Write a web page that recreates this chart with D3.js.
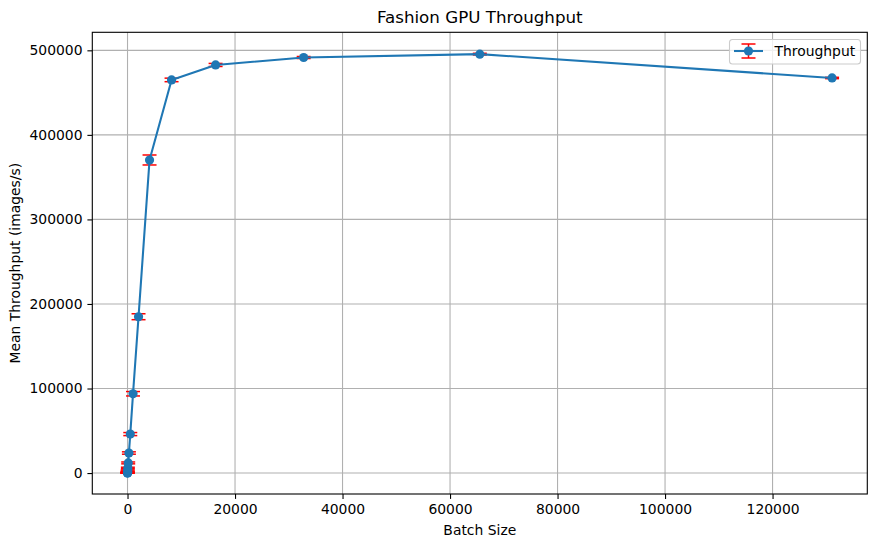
<!DOCTYPE html>
<html>
<head>
<meta charset="utf-8">
<script src="https://cdn.jsdelivr.net/npm/d3@7"></script>
<style>
  body { margin: 0; background: #fff; }
  svg { font-family: "DejaVu Sans", sans-serif; }
</style>
</head>
<body>
<div id="svg-container"></div>
<script>
// data
const batchSizes = [1, 2, 4, 8, 16, 32, 64, 128, 256, 512, 1024, 2048, 4096, 8192, 16384, 32768, 65536, 131072];
const throughput = [90, 185, 370, 750, 1500, 3000, 6000, 12000, 23700, 46100, 93800, 184900, 370300, 465000, 482700, 491500, 495500, 467300];
const throughputErr = [40, 80, 150, 300, 500, 700, 900, 1100, 1400, 1800, 2600, 3500, 5900, 2100, 1800, 1200, 1000, 800];
const xTicks = [0, 20000, 40000, 60000, 80000, 100000, 120000];
const yTicks = [0, 100000, 200000, 300000, 400000, 500000];

const width = 876, height = 547;
const margin = { top: 32.3, right: 8.7, bottom: 53, left: 92.3 };

const svg = d3.select("#svg-container").append("svg")
  .attr("width", width).attr("height", height);

const data = batchSizes.map((b, i) => ({ x: b, y: throughput[i], e: throughputErr[i] }));

// matplotlib-style 5% margins
const pad = (lo, hi) => { const m = (hi - lo) * 0.05; return [lo - m, hi + m]; };
const xScale = d3.scaleLinear()
  .domain(pad(d3.min(batchSizes), d3.max(batchSizes)))
  .range([margin.left, width - margin.right]);
const yScale = d3.scaleLinear()
  .domain(pad(d3.min(data, d => d.y - d.e), d3.max(data, d => d.y + d.e)))
  .range([height - margin.bottom, margin.top]);

const x0 = margin.left, x1 = width - margin.right;
const y0 = height - margin.bottom, y1 = margin.top;

// grid
svg.append("g").selectAll("line").data(xTicks).join("line")
  .attr("x1", d => xScale(d)).attr("x2", d => xScale(d))
  .attr("y1", y0).attr("y2", y1)
  .attr("stroke", "#b0b0b0").attr("stroke-width", 1.1);
svg.append("g").selectAll("line").data(yTicks).join("line")
  .attr("x1", x0).attr("x2", x1)
  .attr("y1", d => yScale(d)).attr("y2", d => yScale(d))
  .attr("stroke", "#b0b0b0").attr("stroke-width", 1.1);

// axes
const xAxis = d3.axisBottom(xScale).tickValues(xTicks).tickFormat(d3.format("d"))
  .tickSizeInner(4.9).tickSizeOuter(0).tickPadding(4.9);
const yAxis = d3.axisLeft(yScale).tickValues(yTicks).tickFormat(d3.format("d"))
  .tickSizeInner(4.9).tickSizeOuter(0).tickPadding(4.9);

const gx = svg.append("g").attr("transform", `translate(0,${y0})`).call(xAxis);
const gy = svg.append("g").attr("transform", `translate(${x0},0)`).call(yAxis);
[gx, gy].forEach(g => {
  g.select(".domain").remove();
  g.selectAll(".tick line").attr("stroke", "#000").attr("stroke-width", 1.1);
  g.selectAll(".tick text").attr("fill", "#000")
    .style("font-size", "13.9px").style("font-family", "DejaVu Sans, sans-serif");
});

// error bars
const capHalf = 7;
const eb = svg.append("g").attr("stroke", "red").attr("stroke-width", 1.5);
eb.selectAll(".bar").data(data).join("line").attr("class", "bar")
  .attr("x1", d => xScale(d.x)).attr("x2", d => xScale(d.x))
  .attr("y1", d => yScale(d.y - d.e)).attr("y2", d => yScale(d.y + d.e));
eb.selectAll(".capLo").data(data).join("line").attr("class", "capLo")
  .attr("x1", d => xScale(d.x) - capHalf).attr("x2", d => xScale(d.x) + capHalf)
  .attr("y1", d => yScale(d.y - d.e)).attr("y2", d => yScale(d.y - d.e));
eb.selectAll(".capHi").data(data).join("line").attr("class", "capHi")
  .attr("x1", d => xScale(d.x) - capHalf).attr("x2", d => xScale(d.x) + capHalf)
  .attr("y1", d => yScale(d.y + d.e)).attr("y2", d => yScale(d.y + d.e));

// line + markers
const line = d3.line().x(d => xScale(d.x)).y(d => yScale(d.y));
svg.append("path").datum(data)
  .attr("d", line).attr("fill", "none")
  .attr("stroke", "#1f77b4").attr("stroke-width", 2.08)
  .attr("stroke-linejoin", "round");
svg.append("g").selectAll("circle").data(data).join("circle")
  .attr("cx", d => xScale(d.x)).attr("cy", d => yScale(d.y))
  .attr("r", 4.6).attr("fill", "#1f77b4");

// frame
svg.append("rect")
  .attr("x", x0).attr("y", y1).attr("width", x1 - x0).attr("height", y0 - y1)
  .attr("fill", "none").attr("stroke", "#000").attr("stroke-width", 1.1);

// title and labels
svg.append("text").attr("x", (x0 + x1) / 2).attr("y", 23)
  .attr("text-anchor", "middle").style("font-size", "16.7px")
  .text("Fashion GPU Throughput");
svg.append("text").attr("x", (x0 + x1) / 2).attr("y", 535)
  .attr("text-anchor", "middle").style("font-size", "13.9px")
  .text("Batch Size");
svg.append("text")
  .attr("transform", `translate(20,${(y0 + y1) / 2}) rotate(-90)`)
  .attr("text-anchor", "middle").style("font-size", "13.9px")
  .text("Mean Throughput (images/s)");

// legend
const lg = svg.append("g").attr("transform", "translate(729.5,39.5)");
lg.append("rect").attr("width", 131).attr("height", 24.5).attr("rx", 3)
  .attr("fill", "#fff").attr("fill-opacity", 0.8)
  .attr("stroke", "#cccccc").attr("stroke-width", 1.1);
const hx = 19, hy = 11.5;
lg.append("line").attr("x1", hx).attr("x2", hx).attr("y1", hy - 7).attr("y2", hy + 7)
  .attr("stroke", "red").attr("stroke-width", 1.5);
[hy - 7, hy + 7].forEach(yy => lg.append("line")
  .attr("x1", hx - 7).attr("x2", hx + 7).attr("y1", yy).attr("y2", yy)
  .attr("stroke", "red").attr("stroke-width", 1.5));
lg.append("line").attr("x1", 4.5).attr("x2", 33.5).attr("y1", hy).attr("y2", hy)
  .attr("stroke", "#1f77b4").attr("stroke-width", 2.08);
lg.append("circle").attr("cx", hx).attr("cy", hy).attr("r", 4.6).attr("fill", "#1f77b4");
lg.append("text").attr("x", 45).attr("y", hy + 5).style("font-size", "13.9px")
  .text("Throughput");
</script>
</body>
</html>
